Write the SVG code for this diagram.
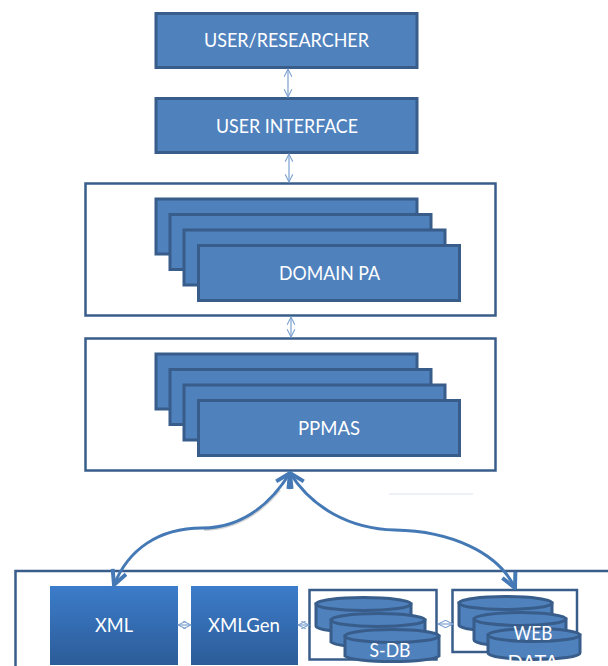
<svg xmlns="http://www.w3.org/2000/svg" width="608" height="666" viewBox="0 0 608 666">
<style>
.box{fill:#4f81bd;stroke:#385d8a;stroke-width:3}
.frame{fill:#fff;stroke:#385d8a;stroke-width:2.5}
.t{font-family:Lato,"Open Sans",sans-serif;font-size:20px;fill:#fff;text-anchor:middle}
.thin{fill:none;stroke:#7ba0d0;stroke-width:1.2}
.curve{fill:none;stroke:#4479b5;stroke-width:3}
.cyl{fill:#4f81bd;stroke:#385d8a;stroke-width:3}
</style>
<defs>
<linearGradient id="g" x1="0" y1="0" x2="0" y2="1"><stop offset="0" stop-color="#3c7cca"/><stop offset="1" stop-color="#2c5c98"/></linearGradient>
<marker id="a" viewBox="0 0 10 10" refX="9" refY="5" markerWidth="8" markerHeight="10" orient="auto-start-reverse"><path d="M1 1L9 5L1 9" fill="none" stroke="#7ba0d0" stroke-width="1.1"/></marker>
<marker id="b" viewBox="0 0 10 10" refX="9" refY="5" markerWidth="6" markerHeight="6" orient="auto-start-reverse"><path d="M1 1L9 5L1 9" fill="none" stroke="#4479b5" stroke-width="2.2"/></marker>
</defs>
<rect x="389" y="493.500" width="84" height="1" fill="#dbe3f0"/>
<g id="user"><rect class="box" x="156" y="13.500" width="261" height="54"/><text class="t" x="286.500" y="47" textLength="165" lengthAdjust="spacingAndGlyphs">USER/RESEARCHER</text></g>
<g id="interface"><rect class="box" x="156" y="98.500" width="261" height="54"/><text class="t" x="287" y="132.500" textLength="142" lengthAdjust="spacingAndGlyphs">USER INTERFACE</text></g>
<g id="domain"><rect class="frame" x="85.500" y="183.500" width="410" height="132"/>
<rect class="box" x="156" y="199" width="261" height="55"/><rect class="box" x="170" y="214.500" width="261" height="55"/><rect class="box" x="184" y="230" width="261" height="55"/><rect class="box" x="198.500" y="245.500" width="261" height="55"/><text class="t" x="329.500" y="280" textLength="101" lengthAdjust="spacingAndGlyphs">DOMAIN PA</text></g>
<g id="ppmas"><rect class="frame" x="85.500" y="338.500" width="410" height="132"/>
<rect class="box" x="156" y="354" width="261" height="55"/><rect class="box" x="170" y="369.500" width="261" height="55"/><rect class="box" x="184" y="385" width="261" height="55"/><rect class="box" x="198.500" y="400.500" width="261" height="55"/><text class="t" x="329" y="435" textLength="62" lengthAdjust="spacingAndGlyphs">PPMAS</text></g>
<g id="sources"><path d="M15.500 666V571H608" fill="none" stroke="#385d8a" stroke-width="2.500"/></g>
<g id="xml"><rect x="50" y="586" width="128" height="79" fill="url(#g)"/><text class="t" x="114" y="632" textLength="38" lengthAdjust="spacingAndGlyphs">XML</text></g>
<g id="xmlgen"><rect x="191" y="586" width="107" height="79" fill="url(#g)"/><text class="t" x="244" y="632" textLength="72" lengthAdjust="spacingAndGlyphs">XMLGen</text></g>
<g id="sdb"><rect x="309.500" y="590" width="127" height="69.500" fill="#fff" stroke="#385d8a" stroke-width="2.500"/>
<path class="cyl" d="M316 604V626A47.500 6.500 0 0 0 411 626V604Z"/><ellipse class="cyl" cx="363.500" cy="604" rx="47.500" ry="6.500"/>
<path class="cyl" d="M331 620V642A47.500 6.500 0 0 0 425 642V620Z"/><ellipse class="cyl" cx="378" cy="620" rx="47" ry="6.500"/>
<path class="cyl" d="M345 636V656A47.500 6.500 0 0 0 439 656V636Z"/><ellipse class="cyl" cx="392" cy="636" rx="47" ry="6.500"/>
<text class="t" x="390" y="657" textLength="41" lengthAdjust="spacingAndGlyphs">S-DB</text></g>
<g id="webdata"><rect x="452.500" y="590" width="124.500" height="62" fill="#fff" stroke="#385d8a" stroke-width="2.500"/>
<path class="cyl" d="M459 603V625A46.500 6.500 0 0 0 552 625V603Z"/><ellipse class="cyl" cx="505.500" cy="603" rx="46.500" ry="6.500"/>
<path class="cyl" d="M474 619V640A46 6.500 0 0 0 566 640V619Z"/><ellipse class="cyl" cx="520" cy="619" rx="46" ry="6.500"/>
<path class="cyl" d="M488 635V653A46 6.500 0 0 0 580 653V635Z"/><ellipse class="cyl" cx="534" cy="635" rx="46" ry="6.500"/>
<text class="t" x="533" y="640" textLength="39" lengthAdjust="spacingAndGlyphs">WEB</text><text class="t" x="533" y="669">DATA</text></g>
<g id="connectors">
<path class="thin" d="M288 69L288 97" marker-start="url(#a)" marker-end="url(#a)"/>
<path class="thin" d="M289 154L289 182" marker-start="url(#a)" marker-end="url(#a)"/>
<path class="thin" d="M291 317L291 337" marker-start="url(#a)" marker-end="url(#a)"/>
<path class="thin" d="M178 625L191 625" marker-start="url(#a)" marker-end="url(#a)"/>
<path class="thin" d="M298 625L309 625" marker-start="url(#a)" marker-end="url(#a)"/>
<path class="thin" d="M438 624L453 624" marker-start="url(#a)" marker-end="url(#a)"/>
<path d="M280 490C262 512 238 529 204 530" fill="none" stroke="#d4d4d4" stroke-width="2"/>
<path class="curve" d="M290 473C268 508 238 528 202 528C158 528 128 550 114 585" marker-start="url(#b)" marker-end="url(#b)"/>
<path class="curve" d="M290 473C312 508 350 529 395 530C450 531 498 552 515 588" marker-start="url(#b)" marker-end="url(#b)"/>
</g>
</svg>
